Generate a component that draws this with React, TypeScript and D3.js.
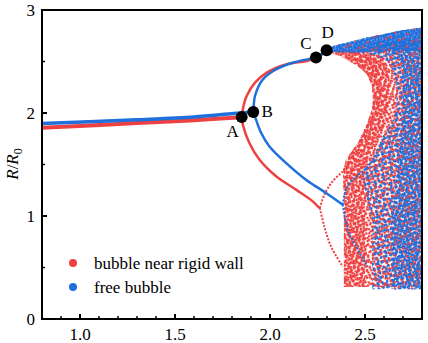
import React from "react";
import * as d3 from "d3";

type P = [number, number];

// ---- data ----
const xTicksMajor = [1.0, 1.5, 2.0, 2.5];
const xTicksMinor = [0.9, 1.1, 1.2, 1.3, 1.4, 1.6, 1.7, 1.8, 1.9, 2.1, 2.2, 2.3, 2.4, 2.6, 2.7];
const yTicksMajor = [0, 1, 2, 3];
const yTicksMinor = [0.5, 1.5, 2.5];

const redFlat: P[] = [[0.8, 1.857], [1.3, 1.902], [1.6, 1.93], [1.851, 1.958]];
const blueFlat: P[] = [[0.8, 1.899], [1.3, 1.935], [1.6, 1.962], [1.81, 1.996], [1.912, 2.01]];

const redUpper2: P[] = [[1.851, 1.96], [1.862, 2.08], [1.877, 2.165], [1.921, 2.295], [1.983, 2.392], [2.088, 2.473], [2.193, 2.505], [2.242, 2.538], [2.3, 2.605]];
const blueUpper2: P[] = [[1.912, 2.01], [1.915, 2.09], [1.921, 2.165], [1.956, 2.311], [2.017, 2.408], [2.123, 2.49], [2.22, 2.529], [2.242, 2.538], [2.3, 2.6]];

const redLower2: P[] = [[1.851, 1.96], [1.858, 1.88], [1.891, 1.711], [1.944, 1.548], [2.032, 1.386], [2.137, 1.256], [2.225, 1.142], [2.259, 1.078]];
const redUpper4: P[] = [[2.262, 1.078], [2.286, 1.207], [2.33, 1.337], [2.383, 1.434], [2.421, 1.519]];
const redLower4: P[] = [[2.262, 1.078], [2.286, 0.899], [2.321, 0.704], [2.383, 0.509]];

const blueLower2: P[] = [[1.912, 2.01], [1.926, 1.938], [1.953, 1.808], [1.996, 1.678], [2.084, 1.516], [2.189, 1.353], [2.295, 1.224], [2.383, 1.11]];
const blueUpper4: P[] = [[2.383, 1.11], [2.4, 1.256], [2.435, 1.353], [2.488, 1.434], [2.542, 1.548], [2.6, 1.78]];
const blueLower4: P[] = [[2.383, 1.11], [2.409, 0.867], [2.453, 0.704], [2.514, 0.509]];

// envelopes of the chaotic clouds
const redChaos: P[] = [
  [2.3, 2.6], [2.45, 2.62], [2.6, 2.66], [2.8, 2.7], [2.8, 0.31], [2.389, 0.31],
  [2.389, 1.16], [2.384, 1.43], [2.4, 1.548], [2.463, 1.714], [2.505, 1.87], [2.537, 2.035],
  [2.542, 2.132], [2.537, 2.259], [2.511, 2.376], [2.463, 2.454], [2.384, 2.541],
];
const redDense: P[] = [
  [2.3, 2.6], [2.45, 2.615], [2.58, 2.56], [2.63, 2.4], [2.63, 2.15], [2.6, 1.9], [2.54, 1.65],
  [2.5, 1.45], [2.5, 0.31], [2.389, 0.31], [2.389, 1.16], [2.384, 1.43], [2.4, 1.548],
  [2.463, 1.714], [2.505, 1.87], [2.537, 2.035], [2.542, 2.132], [2.537, 2.259], [2.511, 2.376],
  [2.463, 2.454], [2.384, 2.541],
];
const redCrescent: P[] = [
  [2.3, 2.6], [2.45, 2.6], [2.54, 2.52], [2.58, 2.38], [2.59, 2.15], [2.56, 1.95], [2.5, 1.72],
  [2.44, 1.55], [2.4, 1.548], [2.463, 1.714], [2.505, 1.87], [2.537, 2.035], [2.542, 2.132],
  [2.537, 2.259], [2.511, 2.376], [2.463, 2.454], [2.384, 2.541],
];
const blueChaos: P[] = [
  [2.3, 2.6], [2.332, 2.651], [2.511, 2.733], [2.684, 2.798], [2.8, 2.83], [2.8, 0.29], [2.537, 0.29],
  [2.537, 0.964], [2.505, 1.207], [2.484, 1.431], [2.542, 1.548], [2.595, 1.743], [2.647, 1.938],
  [2.668, 2.132], [2.66, 2.327], [2.62, 2.502], [2.526, 2.57], [2.395, 2.6],
];
const blueDense: P[] = [
  [2.45, 2.6], [2.6, 2.7], [2.8, 2.75], [2.8, 0.29], [2.64, 0.29],
  [2.64, 1.0], [2.68, 1.6], [2.7, 2.1], [2.7, 2.5], [2.6, 2.59],
];
const blueBand: P[] = [
  [2.3, 2.6], [2.332, 2.651], [2.511, 2.733], [2.684, 2.798], [2.8, 2.83], [2.8, 2.6], [2.6, 2.61], [2.45, 2.59], [2.35, 2.59],
];

const markers = [
  { name: "A", x: 1.851, y: 1.96, dx: -9, dy: 16 },
  { name: "B", x: 1.912, y: 2.01, dx: 14, dy: 1 },
  { name: "C", x: 2.242, y: 2.538, dx: -10, dy: -12 },
  { name: "D", x: 2.298, y: 2.61, dx: 1, dy: -16 },
];

const legendItems = [
  { label: "bubble near rigid wall", color: "#ee4141" },
  { label: "free bubble", color: "#1f6fdc" },
];

const RED = "#ee4141";
const BLUE = "#1f6fdc";

// dot textures (styling only)
type Tex = { id: string; size: number; rot: number; dots: P[]; color: string };
const TEX: Tex[] = [
  { id: "r1", size: 5, rot: 17, dots: [[1, 2]], color: RED },
  { id: "r2", size: 7, rot: -23, dots: [[0, 0], [4, 4]], color: RED },
  { id: "r3", size: 11, rot: 41, dots: [[2, 6], [7, 1], [8, 8]], color: RED },
  { id: "r4", size: 6, rot: -61, dots: [[3, 0], [0, 3.5]], color: RED },
  { id: "r5", size: 13, rot: 7, dots: [[5, 9], [10, 3], [1, 1]], color: RED },
  { id: "r6", size: 9, rot: 73, dots: [[1, 5], [6, 2]], color: RED },
  { id: "r7", size: 5, rot: -37, dots: [[2, 1]], color: RED },
  { id: "r8", size: 8, rot: 53, dots: [[0, 4], [4, 0], [5, 5]], color: RED },
  { id: "b1", size: 5, rot: -13, dots: [[3, 0]], color: BLUE },
  { id: "b2", size: 7, rot: 29, dots: [[2, 5], [5, 1.5]], color: BLUE },
  { id: "b3", size: 11, rot: -47, dots: [[0, 3], [5, 8], [9, 5]], color: BLUE },
  { id: "b4", size: 6, rot: 59, dots: [[1, 1], [4, 4]], color: BLUE },
  { id: "b5", size: 9, rot: -3, dots: [[6, 6], [2, 8], [4, 1]], color: BLUE },
  { id: "b6", size: 4, rot: 31, dots: [[0, 2], [2, 0]], color: BLUE },
  { id: "b7", size: 5, rot: 67, dots: [[1, 3]], color: BLUE },
];

const FONT = "Liberation Serif";
const FS = 17;

export default function App() {
  const W = 428, H = 343;
  const x = d3.scaleLinear().domain([0.8, 2.8]).range([42, 422]);
  const y = d3.scaleLinear().domain([0, 3]).range([319, 10]);
  const line = d3.line<P>().x((d) => x(d[0])).y((d) => y(d[1])).curve(d3.curveCatmullRom.alpha(0.5));
  const poly = d3.line<P>().x((d) => x(d[0])).y((d) => y(d[1])).curve(d3.curveLinearClosed);

  const area = (pts: P[], ids: string[], k: string) =>
    ids.map((id) => <path key={k + id} d={poly(pts) || ""} fill={`url(#${id})`} />);

  return (
    <svg width={W} height={H} style={{ display: "block", position: "absolute", left: 0, top: 0 }}>
      <defs>
        {TEX.map((t) => (
          <pattern key={t.id} id={t.id} width={t.size} height={t.size} patternUnits="userSpaceOnUse" patternTransform={`rotate(${t.rot})`}>
            {t.dots.map((d, i) => (
              <rect key={i} x={d[0]} y={d[1]} width={2.2} height={2.2} fill={t.color} />
            ))}
          </pattern>
        ))}
        <clipPath id="plotClip">
          <rect x={42} y={10} width={380} height={309} />
        </clipPath>
      </defs>
      <rect width={W} height={H} fill="#fff" />
      <g clipPath="url(#plotClip)">
        {area(redChaos, ["r1", "r2", "r3", "r6"], "rc")}
        {area(redDense, ["r4", "r5", "r7"], "rd")}
        {area(redCrescent, ["r8"], "rcr")}
        {area(blueChaos, ["b1", "b2", "b3"], "bc")}
        {area(blueDense, ["b4", "b5", "b7"], "bd")}
        <path d={poly(blueBand) || ""} fill={BLUE} opacity={0.55} />
        {area(blueBand, ["b4", "b5", "b6"], "bb")}
        {area(blueChaos, ["r5"], "rt")}
        <path d={line(redFlat) || ""} fill="none" stroke={RED} strokeWidth={4} />
        <path d={line(blueFlat) || ""} fill="none" stroke={BLUE} strokeWidth={3.5} />
        <path d={line(redUpper2) || ""} fill="none" stroke={RED} strokeWidth={2.5} />
        <path d={line(redLower2) || ""} fill="none" stroke={RED} strokeWidth={2.5} />
        <path d={line(redUpper4) || ""} fill="none" stroke={RED} strokeWidth={2} strokeDasharray="2 1.5" />
        <path d={line(redLower4) || ""} fill="none" stroke={RED} strokeWidth={2} strokeDasharray="2 1.5" />
        <path d={line(blueUpper2) || ""} fill="none" stroke={BLUE} strokeWidth={2.5} />
        <path d={line(blueLower2) || ""} fill="none" stroke={BLUE} strokeWidth={2.5} />
        <path d={line(blueUpper4) || ""} fill="none" stroke={BLUE} strokeWidth={2} strokeDasharray="2 1.5" />
        <path d={line(blueLower4) || ""} fill="none" stroke={BLUE} strokeWidth={2} strokeDasharray="2 1.5" />
      </g>
      {markers.map((m) => (
        <g key={m.name}>
          <circle cx={x(m.x)} cy={y(m.y)} r={6} fill="#000" />
          <text x={x(m.x) + m.dx} y={y(m.y) + m.dy} fontFamily={FONT} fontSize={FS} textAnchor="middle" dominantBaseline="middle">
            {m.name}
          </text>
        </g>
      ))}
      <rect x={42} y={10} width={380} height={309} fill="none" stroke="#000" strokeWidth={2} />
      {xTicksMajor.map((t) => (
        <g key={"xM" + t}>
          <line x1={x(t)} x2={x(t)} y1={319} y2={314} stroke="#000" strokeWidth={2} />
          <text x={x(t)} y={340} fontFamily={FONT} fontSize={FS} textAnchor="middle">{t.toFixed(1)}</text>
        </g>
      ))}
      {xTicksMinor.map((t) => (
        <line key={"xm" + t} x1={x(t)} x2={x(t)} y1={319} y2={316} stroke="#000" strokeWidth={1.5} />
      ))}
      {yTicksMajor.map((t) => (
        <g key={"yM" + t}>
          <line x1={42} x2={47} y1={y(t)} y2={y(t)} stroke="#000" strokeWidth={2} />
          <text x={35} y={y(t)} fontFamily={FONT} fontSize={FS} textAnchor="end" dominantBaseline="central">{t}</text>
        </g>
      ))}
      {yTicksMinor.map((t) => (
        <line key={"ym" + t} x1={42} x2={45} y1={y(t)} y2={y(t)} stroke="#000" strokeWidth={1.5} />
      ))}
      <text transform="translate(18,164) rotate(-90)" fontFamily={FONT} fontSize={FS} textAnchor="middle">
        <tspan fontStyle="italic">R</tspan>
        <tspan>/</tspan>
        <tspan fontStyle="italic">R</tspan>
        <tspan fontSize={12} dy={4}>0</tspan>
      </text>
      {legendItems.map((l, i) => (
        <g key={l.label}>
          <circle cx={73} cy={263 + i * 24} r={4} fill={l.color} />
          <text x={94} y={263 + i * 24} fontFamily={FONT} fontSize={FS} dominantBaseline="central">{l.label}</text>
        </g>
      ))}
    </svg>
  );
}
